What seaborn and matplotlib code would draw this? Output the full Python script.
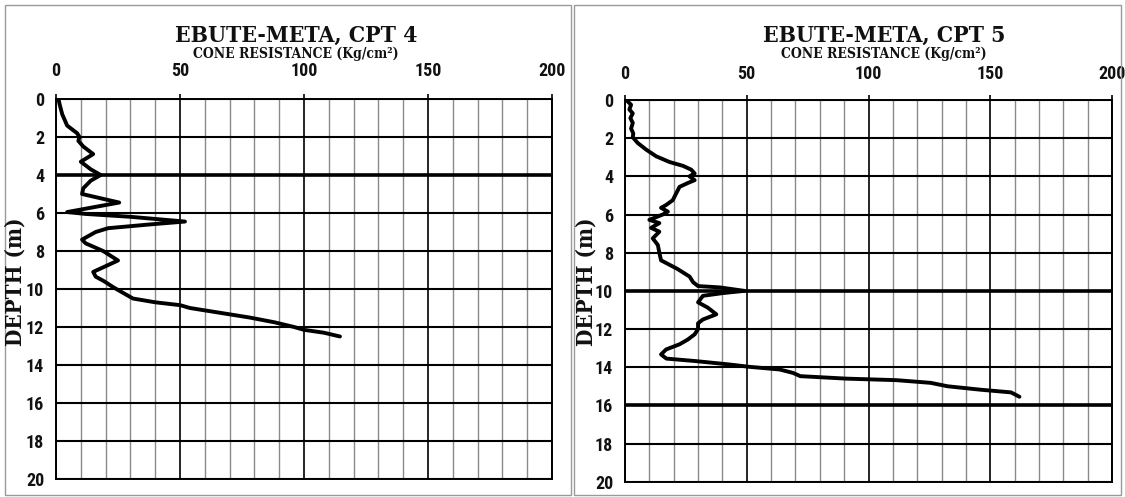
import os
import matplotlib
matplotlib.use("Agg")
import matplotlib.pyplot as plt
from matplotlib import font_manager
from matplotlib.font_manager import FontProperties
from matplotlib.patches import Rectangle
import pandas as pd
import seaborn as sns

# ---- CPT 4 sounding: depth (m) and cone resistance (kg/cm2) ----
cpt4_depth = [0.0, 0.3, 0.8, 1.4, 1.8, 2.0, 2.2, 2.5, 2.9, 3.3, 3.7, 4.0, 4.3,
              4.7, 5.0, 5.45, 5.7, 5.95, 6.05, 6.2, 6.45, 6.6, 6.8, 7.0, 7.4,
              7.6, 8.0, 8.5, 8.8, 9.1, 9.35, 9.6, 9.9, 10.2, 10.5, 10.7, 10.85,
              11.0, 11.25, 11.5, 11.75, 12.0, 12.15, 12.3, 12.5]
cpt4_qc = [1.0, 1.5, 2.5, 4.5, 8.5, 9.5, 9.0, 11.0, 15.0, 10.0, 14.0, 18.0, 14.0,
           11.0, 10.5, 25.5, 15.0, 4.5, 12.0, 30.0, 52.0, 38.0, 21.0, 16.0, 10.5,
           12.0, 19.0, 25.0, 20.0, 15.0, 16.0, 19.5, 23.0, 27.0, 31.0, 40.0, 50.0,
           54.0, 66.0, 78.0, 88.0, 96.0, 100.0, 108.0, 114.5]

# ---- CPT 5 sounding ----
cpt5_depth = [0.0, 0.25, 0.5, 0.7, 0.95, 1.2, 1.5, 1.75, 1.95, 2.25, 2.6, 2.95,
              3.25, 3.45, 3.65, 3.85, 4.0, 4.2, 4.35, 4.55, 4.9, 5.25, 5.5, 5.65,
              5.85, 6.0, 6.28, 6.45, 6.7, 6.9, 7.25, 7.6, 8.0, 8.4, 8.85, 9.25,
              9.55, 9.75, 9.82, 10.0, 10.12, 10.26, 10.6, 10.88, 11.23, 11.5,
              11.7, 12.0, 12.28, 12.55, 12.8, 13.07, 13.33, 13.55, 13.68, 13.86,
              13.98, 14.12, 14.3, 14.47, 14.6, 14.68, 14.82, 15.0, 15.18, 15.32,
              15.55]
cpt5_qc = [0.5, 2.5, 1.8, 3.2, 2.2, 3.2, 2.5, 3.4, 3.2, 5.2, 8.7, 12.8,
           18.3, 23.8, 27.2, 28.6, 26.5, 28.6, 25.8, 22.4, 21.0, 19.6, 16.9, 14.8,
           17.6, 15.5, 10.0, 14.1, 10.7, 14.1, 11.4, 13.5, 14.1, 14.8, 21.5, 26.5,
           28.0, 30.0, 39.0, 49.0, 40.0, 32.0, 30.0, 34.0, 37.5, 32.0,
           30.0, 30.0, 28.6, 25.8, 22.4, 16.9, 14.8, 17.0, 29.0, 43.0,
           51.0, 63.5, 69.0, 72.0, 91.0, 111.5, 125.5, 132.5, 146.0, 158.5,
           162.0]

titles = ["EBUTE-META, CPT 4", "EBUTE-META, CPT 5"]
x_label = "CONE RESISTANCE (Kg/cm\u00b2)"
y_label = "DEPTH (m)"
x_ticks = [0, 50, 100, 150, 200]
y_ticks = list(range(0, 21, 2))

sns.set_style("white")


def find_font_file(patterns):
    """Return the first installed font file whose name matches a pattern."""
    files = [f.fname for f in font_manager.fontManager.ttflist]
    files += font_manager.findSystemFonts()
    for pat in patterns:
        for path in files:
            base = os.path.basename(path).lower().replace(" ", "").replace("_", "")
            if all(part in base for part in pat):
                return path
    return None


narrow_sans = find_font_file([
    ("liberationsansnarrow-bold.",),
    ("arialnarrow", "bold"),
    ("robotocondensed-bold",),
    ("notosans-condensedbold.",),
    ("dejavusanscondensed-bold.",),
    ("opensans", "condensed", "bold"),
])
narrow_serif = find_font_file([
    ("dejavuserifcondensed-bold.",),
    ("notoserif-condensedbold.",),
])


def tick_props(size):
    if narrow_sans:
        return FontProperties(fname=narrow_sans, size=size)
    return FontProperties(family="Liberation Sans", weight="bold", size=size - 1)


def serif_props(size, narrow_size):
    if narrow_serif:
        return FontProperties(fname=narrow_serif, size=narrow_size)
    return FontProperties(family="Liberation Serif", weight="bold", size=size)


W, H = 1125, 497
fig = plt.figure(figsize=(W / 100, H / 100), dpi=100)


def fx(px):
    return px / W


def fy(py):
    return 1 - py / H


# panel frames
for x0, x1 in [(5, 571), (574, 1121)]:
    fig.add_artist(Rectangle((fx(x0), fy(495)), fx(x1 - x0), (495 - 5) / H,
                             transform=fig.transFigure, fill=False,
                             ec="#9a9a9a", lw=1.0))

panels = [
    dict(rect=[fx(56), fy(479), fx(552 - 56), (479 - 99) / H],
         depth=cpt4_depth, qc=cpt4_qc, thick=[4], xpad=10.5,
         title_x=296, ylab_x=16),
    dict(rect=[fx(625), fy(481.7), fx(1112 - 625), (481.7 - 100) / H],
         depth=cpt5_depth, qc=cpt5_qc, thick=[10, 16], xpad=9.0,
         title_x=884, ylab_x=586),
]

for p, title in zip(panels, titles):
    ax = fig.add_axes(p["rect"])
    df = pd.DataFrame({"qc": p["qc"], "depth": p["depth"]})

    ax.set_xlim(0, 200)
    ax.set_ylim(20, 0)
    ax.set_xticks(x_ticks)
    ax.set_xticks(range(0, 201, 10), minor=True)
    ax.set_yticks(y_ticks)

    ax.grid(which="minor", axis="x", color="#8a8a8a", lw=1.0, zorder=1)
    ax.grid(which="major", axis="x", color="black", lw=1.2, zorder=1)
    ax.grid(which="major", axis="y", color="black", lw=1.5, zorder=1)
    for d in p["thick"]:
        ax.axhline(d, color="black", lw=2.6, zorder=1)
    ax.set_axisbelow(True)

    sns.lineplot(data=df, x="qc", y="depth", sort=False, estimator=None,
                 color="black", lw=2.8, ax=ax, zorder=3)

    ax.xaxis.tick_top()
    ax.tick_params(axis="x", which="major", length=3.5, width=1.2,
                   color="black", pad=p["xpad"])
    ax.tick_params(axis="x", which="minor", length=0)
    ax.tick_params(axis="y", length=3.5, width=1.2, color="black", pad=5)
    for lab in ax.get_xticklabels() + ax.get_yticklabels():
        lab.set_fontproperties(tick_props(13))
        lab.set_color("#111111")
    ax.set_xlabel("")
    ax.set_ylabel("")
    for s in ax.spines.values():
        s.set_color("black")
        s.set_linewidth(1.4)

    fig.text(fx(p["title_x"]), fy(42), title, ha="center", va="baseline",
             fontproperties=serif_props(17, 16.5), color="#111111")
    fig.text(fx(p["title_x"]), fy(58), x_label, ha="center", va="baseline",
             fontproperties=serif_props(10.5, 10), color="#111111")
    fig.text(fx(p["ylab_x"]), fy(282), y_label, ha="center", va="center",
             rotation=90, fontproperties=serif_props(16, 16),
             color="#111111")

fig.savefig("out.png", dpi=100)
